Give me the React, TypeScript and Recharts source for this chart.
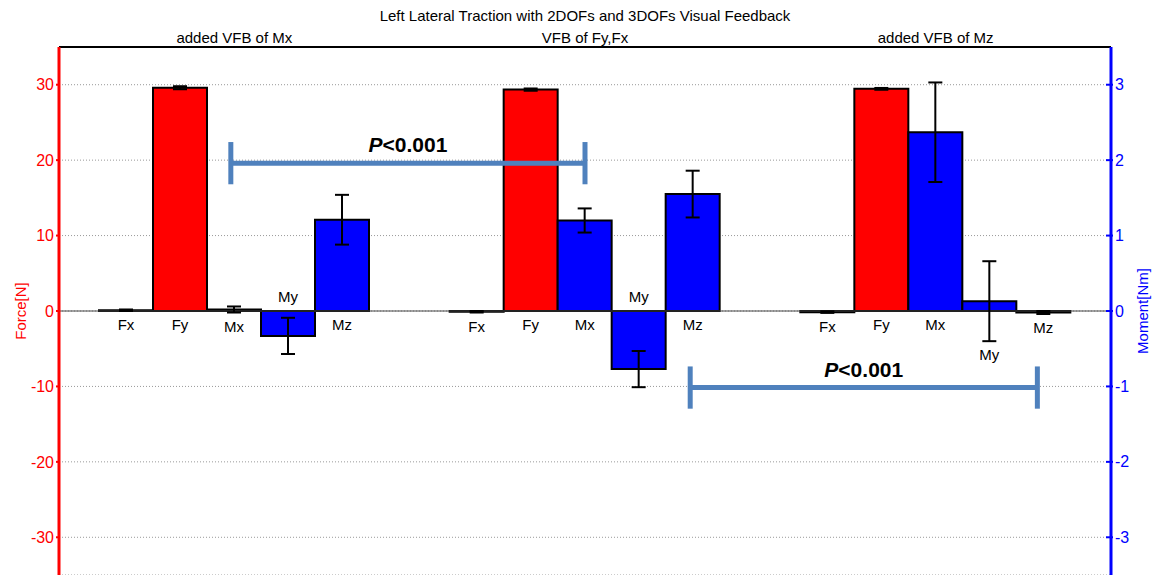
import {
  BarChart,
  Bar,
  XAxis,
  YAxis,
  CartesianGrid,
  ErrorBar,
  LabelList,
  ReferenceLine,
} from 'recharts'

const CONDITIONS = ['added VFB of Mx', 'VFB of Fy,Fx', 'added VFB of Mz']
const SLOTS = [0.5, 1.5, 2.5]

// forces [N]
const FX = [0.1, -0.1, -0.15]
const FX_SD = [0.1, 0.1, 0.1]
const FY = [29.6, 29.35, 29.45]
const FY_SD = [0.2, 0.15, 0.12]

// moments [Nm]
const MX = [0.02, 1.2, 2.37]
const MX_SD = [0.04, 0.16, 0.66]
const MY = [-0.33, -0.77, 0.13]
const MY_SD = [0.24, 0.24, 0.53]
const MZ = [1.21, 1.55, -0.02]
const MZ_SD = [0.33, 0.31, 0.02]

const FORCE_TICKS = [-30, -20, -10, 0, 10, 20, 30]
const MOMENT_TICKS = [-3, -2, -1, 0, 1, 2, 3]

// significance brackets: x in condition units (0..3), level in N
const BRACKET_FROM = [0.49, 1.8]
const BRACKET_TO = [1.5, 2.79]
const BRACKET_LEVEL = [19.6, -10.15]
const BRACKET_TEXT = ['<0.001', '<0.001']

const WIDTH = 1154
const HEIGHT = 575
const MARGIN_TOP = 22
const TOP_AXIS_H = 25
const PLOT_H = HEIGHT - MARGIN_TOP - TOP_AXIS_H
const FORCE_MAX = 35
const MOMENT_MAX = 3.5
const FORCE_PX = PLOT_H / (2 * FORCE_MAX)
const MOMENT_PX = PLOT_H / (2 * MOMENT_MAX)

const RED = '#FF0000'
const BLUE = '#0000FF'
const BRACKET_COLOR = '#4F81BD'

const rows = CONDITIONS.map((cond, i) => ({
  cond,
  slot: SLOTS[i],
  fx: FX[i],
  fxSd: FX_SD[i],
  fy: FY[i],
  fySd: FY_SD[i],
  mx: MX[i],
  mxSd: MX_SD[i],
  my: MY[i],
  mySd: MY_SD[i],
  mz: MZ[i],
  mzSd: MZ_SD[i],
}))

const SERIES = [
  { key: 'fx', name: 'Fx', values: FX, sds: FX_SD, axis: 'force', color: RED, px: FORCE_PX },
  { key: 'fy', name: 'Fy', values: FY, sds: FY_SD, axis: 'force', color: RED, px: FORCE_PX },
  { key: 'mx', name: 'Mx', values: MX, sds: MX_SD, axis: 'moment', color: BLUE, px: MOMENT_PX },
  { key: 'my', name: 'My', values: MY, sds: MY_SD, axis: 'moment', color: BLUE, px: MOMENT_PX },
  { key: 'mz', name: 'Mz', values: MZ, sds: MZ_SD, axis: 'moment', color: BLUE, px: MOMENT_PX },
]

// bar name under the zero line (or under the error bar), above it for clearly negative bars
function makeTag(name: string, values: number[], sds: number[], px: number) {
  return (props: any) => {
    const vb = props.viewBox ?? props
    const { x, y, width, height } = vb
    const i = props.index
    const v = values[i]
    const sd = sds[i]
    const top = Math.min(y, y + height)
    const bottom = Math.max(y, y + height)
    const zero = v >= 0 ? bottom : top
    const below = -v * px
    const cy = below > 8 ? zero - 14 : Math.max(zero, zero + (sd - v) * px) + 14
    return (
      <text x={x + width / 2} y={cy} dy="0.35em" textAnchor="middle" fontSize={15} fill="#000">
        {name}
      </text>
    )
  }
}

function AxisTitle({ viewBox, text, color, dx }: any) {
  const cx = viewBox.x + dx
  const cy = viewBox.y + viewBox.height / 2
  return (
    <text
      x={cx}
      y={cy}
      transform={`rotate(-90 ${cx} ${cy})`}
      textAnchor="middle"
      dominantBaseline="central"
      fill={color}
      fontSize={15}
    >
      {text}
    </text>
  )
}

function ChartTitle({ viewBox }: any) {
  return (
    <text x={viewBox.x + viewBox.width / 2} y={viewBox.y - 1} textAnchor="middle" fontSize={15} fill="#000">
      Left Lateral Traction with 2DOFs and 3DOFs Visual Feedback
    </text>
  )
}

function PValue({ viewBox, text }: any) {
  return (
    <text
      x={viewBox.x + viewBox.width / 2}
      y={viewBox.y - 11}
      textAnchor="middle"
      fontSize={21}
      fontWeight="bold"
      fill="#000"
    >
      <tspan fontStyle="italic">P</tspan>
      {text}
    </text>
  )
}

function MomentTick({ x, y, payload }: any) {
  return (
    <g>
      <line x1={x - 9} x2={x - 2} y1={y} y2={y} stroke={BLUE} strokeWidth={2} />
      <text x={x} y={y} dy="0.35em" textAnchor="start" fontSize={16} fill={BLUE}>
        {payload.value}
      </text>
    </g>
  )
}

function conditionName(slot: number) {
  return CONDITIONS[SLOTS.indexOf(slot)] ?? ''
}

export default function App() {
  return (
    <div
      style={{
        position: 'absolute',
        left: 0,
        top: 0,
        width: WIDTH,
        height: HEIGHT,
        background: '#fff',
        fontFamily: '"Liberation Sans", Arial, sans-serif',
      }}
    >
      <BarChart
        width={WIDTH}
        height={HEIGHT}
        data={rows}
        margin={{ top: MARGIN_TOP, right: 0, bottom: 0, left: 0 }}
        barGap={0}
      >
        <XAxis
          dataKey="slot"
          type="number"
          domain={[0, 3]}
          ticks={SLOTS}
          tickFormatter={conditionName}
          allowDataOverflow
          orientation="top"
          height={TOP_AXIS_H}
          interval={0}
          axisLine={{ stroke: '#000', strokeWidth: 2 }}
          tickLine={false}
          tickSize={0}
          tickMargin={4}
          tick={{ fill: '#000', fontSize: 15 }}
          label={(p: any) => <ChartTitle viewBox={p.viewBox} />}
        />
        <YAxis
          yAxisId="force"
          orientation="left"
          width={59}
          domain={[-FORCE_MAX, FORCE_MAX]}
          ticks={FORCE_TICKS}
          allowDataOverflow
          axisLine={{ stroke: RED, strokeWidth: 3 }}
          tickLine={{ stroke: RED, strokeWidth: 2 }}
          tickSize={3}
          tickMargin={2}
          tick={{ fill: RED, fontSize: 16 }}
          label={(p: any) => <AxisTitle viewBox={p.viewBox} text="Force[N]" color={RED} dx={20} />}
        />
        <YAxis
          yAxisId="moment"
          orientation="right"
          width={43}
          domain={[-MOMENT_MAX, MOMENT_MAX]}
          ticks={MOMENT_TICKS}
          allowDataOverflow
          axisLine={{ stroke: BLUE, strokeWidth: 3 }}
          tickLine={false}
          tickSize={0}
          tickMargin={4}
          tick={<MomentTick />}
          label={(p: any) => <AxisTitle viewBox={p.viewBox} text="Moment[Nm]" color={BLUE} dx={31} />}
        />
        <CartesianGrid yAxisId="force" vertical={false} stroke="#999" strokeDasharray="1 2" />
        <ReferenceLine yAxisId="force" y={0} stroke="#444" strokeWidth={1} />
        {SERIES.map(s => (
          <Bar
            key={s.key}
            dataKey={s.key}
            yAxisId={s.axis}
            fill={s.color}
            stroke="#000"
            strokeWidth={2}
            barSize={54}
            isAnimationActive={false}
          >
            <ErrorBar
              dataKey={`${s.key}Sd`}
              width={7}
              stroke="#000"
              strokeWidth={2}
              isAnimationActive={false}
            />
            <LabelList dataKey={s.key} content={makeTag(s.name, s.values, s.sds, s.px)} />
          </Bar>
        ))}
        {BRACKET_FROM.map((from, i) => {
          const to = BRACKET_TO[i]
          const level = BRACKET_LEVEL[i]
          return [
            <ReferenceLine
              key={`h${i}`}
              yAxisId="force"
              segment={[{ x: from, y: level }, { x: to, y: level }]}
              stroke={BRACKET_COLOR}
              strokeWidth={5}
              label={(p: any) => <PValue viewBox={p.viewBox} text={BRACKET_TEXT[i]} />}
            />,
            <ReferenceLine
              key={`l${i}`}
              yAxisId="force"
              segment={[{ x: from, y: level - 2.8 }, { x: from, y: level + 2.8 }]}
              stroke={BRACKET_COLOR}
              strokeWidth={5}
            />,
            <ReferenceLine
              key={`r${i}`}
              yAxisId="force"
              segment={[{ x: to, y: level - 2.8 }, { x: to, y: level + 2.8 }]}
              stroke={BRACKET_COLOR}
              strokeWidth={5}
            />,
          ]
        })}
      </BarChart>
    </div>
  )
}
